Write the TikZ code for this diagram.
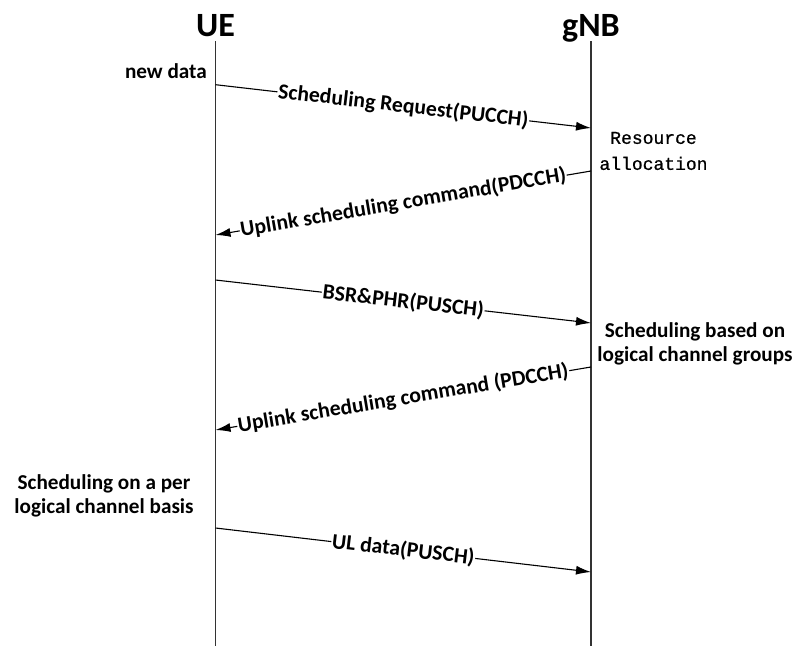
\documentclass[tikz,border=0pt]{standalone}
\usepackage{fontspec}
\setmainfont{Carlito}
\newfontfamily\monofont[FakeBold=0.8]{Liberation Mono}
\usetikzlibrary{arrows.meta}
\begin{document}
\begin{tikzpicture}[x=1pt,y=-1pt,
  actor/.style={font=\fontsize{34}{36}\selectfont\bfseries, anchor=base, inner sep=0pt},
  lifeline/.style={draw=black!80, line width=1.3pt},
  msg/.style={draw=black, line width=1.1pt, -{Latex[length=15pt,width=9pt]}},
  msglabel/.style={font=\fontsize{21.7}{23}\selectfont\bfseries, sloped, fill=white, inner sep=0.8pt, pos=0.5},
  note/.style={font=\fontsize{21.2}{24.5}\selectfont\bfseries, align=center, inner sep=0pt},
  mononote/.style={font=\monofont\fontsize{18}{26}\selectfont, align=center, inner sep=0pt}]
  \useasboundingbox (0,0) rectangle (795,646);

  % participants
  \node[actor] (ue) at (215.5,36.5) {UE};
  \node[actor] (gnb) at (591,36.5) {gNB};

  % lifelines
  \coordinate (ueTop) at (215.5,41);
  \coordinate (ueBot) at (215.5,646);
  \coordinate (gnbTop) at (591,41);
  \coordinate (gnbBot) at (591,646);
  \draw[lifeline] (ueTop) -- (ueBot);
  \draw[lifeline] (gnbTop) -- (gnbBot);

  % message end points on the lifelines
  \coordinate (m1s) at (215.5,84.7);  \coordinate (m1e) at (591,128);
  \coordinate (m2s) at (591,171);     \coordinate (m2e) at (215.5,235);
  \coordinate (m3s) at (215.5,280);   \coordinate (m3e) at (591,323);
  \coordinate (m4s) at (591,367);     \coordinate (m4e) at (215.5,430);
  \coordinate (m5s) at (215.5,528);   \coordinate (m5e) at (591,572);

  % messages
  \draw[msg] (m1s) -- node[msglabel] (l1) {Scheduling Request(PUCCH)} (m1e);
  \draw[msg] (m2s) -- node[msglabel] (l2) {Uplink scheduling command(PDCCH)} (m2e);
  \draw[msg] (m3s) -- node[msglabel] (l3) {BSR\&PHR(PUSCH)} (m3e);
  \draw[msg] (m4s) -- node[msglabel] (l4) {Uplink scheduling command (PDCCH)} (m4e);
  \draw[msg] (m5s) -- node[msglabel] (l5) {UL data(PUSCH)} (m5e);

  % side notes
  \node[note, anchor=base east] (newdata) at (207,78) {new data};
  \node[mononote] (resalloc) at (653.5,151) {Resource\\allocation};
  \node[note] (lcg) at (695,344) {Scheduling based on\\logical channel groups};
  \node[note] (perlc) at (104,496) {Scheduling on a per\\logical channel basis};
\end{tikzpicture}
\end{document}
